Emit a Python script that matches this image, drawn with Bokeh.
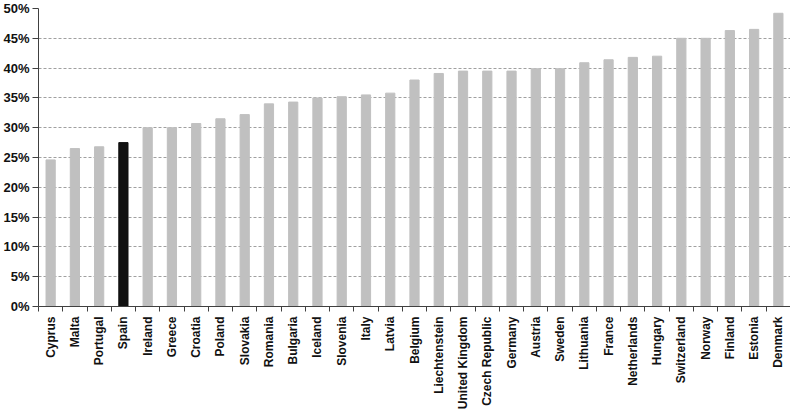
from bokeh.plotting import figure
from bokeh.models import ColumnDataSource, FixedTicker, NumeralTickFormatter, Range1d
from bokeh.embed import file_html
from bokeh.resources import INLINE

countries = ["Cyprus", "Malta", "Portugal", "Spain", "Ireland", "Greece", "Croatia", "Poland",
             "Slovakia", "Romania", "Bulgaria", "Iceland", "Slovenia", "Italy", "Latvia", "Belgium",
             "Liechtenstein", "United Kingdom", "Czech Republic", "Germany", "Austria", "Sweden",
             "Lithuania", "France", "Netherlands", "Hungary", "Switzerland", "Norway", "Finland",
             "Estonia", "Denmark"]
values = [24.6, 26.5, 26.8, 27.5, 30.0, 30.0, 30.7, 31.5,
          32.2, 34.0, 34.3, 35.0, 35.2, 35.5, 35.8, 38.0,
          39.1, 39.5, 39.5, 39.5, 39.9, 39.9,
          40.9, 41.4, 41.8, 42.0, 45.0, 45.0, 46.3,
          46.5, 49.2]
highlight = "Spain"
y_ticks = [0, 0.05, 0.10, 0.15, 0.20, 0.25, 0.30, 0.35, 0.40, 0.45, 0.50]

n = len(countries)
centers = [i + 0.5 for i in range(n)]
bounds = list(range(n + 1))
colors = ["#111111" if c == highlight else "#c0c0c0" for c in countries]

src = ColumnDataSource(dict(x=centers, top=[v / 100 for v in values], color=colors, name=countries))

p = figure(width=790, height=412, output_backend="svg", toolbar_location=None,
           x_range=Range1d(0, n), y_range=Range1d(0, 0.5),
           min_border_left=30, min_border_right=0, min_border_top=8, min_border_bottom=0)
p.outline_line_color = None
p.background_fill_color = "white"
p.border_fill_color = "white"

p.vbar(x="x", top="top", width=0.38, bottom=0, color="color", source=src)

# x axis
p.xaxis.ticker = FixedTicker(ticks=centers, minor_ticks=bounds)
p.xaxis.major_label_overrides = {c: name for c, name in zip(centers, countries)}
p.xaxis.major_label_orientation = 1.5707963
p.xaxis.major_tick_out = 0
p.xaxis.major_tick_in = 0
p.xaxis.minor_tick_out = 5
p.xaxis.minor_tick_in = 0
p.xaxis.minor_tick_line_color = "#404040"
p.xaxis.axis_line_color = "#404040"
p.xaxis.major_label_text_font = "Liberation Sans"
p.xaxis.major_label_text_font_size = "12px"
p.xaxis.major_label_text_font_style = "bold"
p.xaxis.major_label_text_color = "#111111"
p.xaxis.major_label_standoff = 5
p.xgrid.grid_line_color = None

# y axis
p.yaxis.ticker = FixedTicker(ticks=y_ticks, minor_ticks=[])
p.yaxis.formatter = NumeralTickFormatter(format="0%")
p.yaxis.major_tick_out = 6
p.yaxis.major_tick_in = 0
p.yaxis.major_tick_line_color = "#404040"
p.yaxis.axis_line_color = "#404040"
p.yaxis.major_label_text_font = "Liberation Sans"
p.yaxis.major_label_text_font_size = "13px"
p.yaxis.major_label_text_font_style = "bold"
p.yaxis.major_label_text_color = "#111111"
p.yaxis.major_label_standoff = 3
p.ygrid.grid_line_color = "#a0a0a0"
p.ygrid.grid_line_dash = "3 2"
p.ygrid.grid_line_width = 1

open("out.html", "w").write(file_html(p, INLINE))
